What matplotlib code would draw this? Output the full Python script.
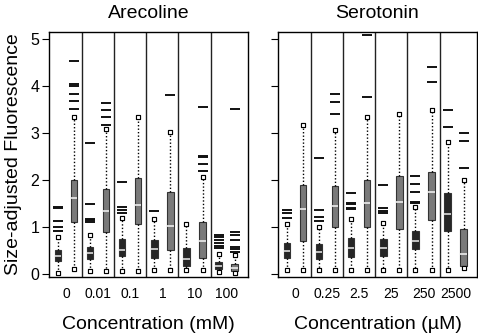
import numpy as np
import matplotlib
matplotlib.use("Agg")
from matplotlib import pyplot as plt

plt.rcParams['font.family'] = ['Liberation Sans', 'DejaVu Sans']

# concentration groups
are_conc = ['0', '0.01', '0.1', '1', '10', '100']
ser_conc = ['0', '0.25', '2.5', '25', '250', '2500']

# (whisker low, q1, median, q3, whisker high) per group
are_dark = [(0.03, 0.28, 0.39, 0.51, 0.79),
            (0.06, 0.31, 0.44, 0.58, 0.84),
            (0.07, 0.38, 0.51, 0.74, 1.20),
            (0.08, 0.35, 0.53, 0.72, 1.16),
            (0.08, 0.17, 0.31, 0.55, 1.06),
            (0.05, 0.10, 0.16, 0.26, 0.43)]
are_dark_out = [[0.92, 0.99, 1.12, 1.40, 1.42],
                [1.11, 1.14, 1.16, 1.48, 2.79],
                [1.30, 1.36, 1.43, 1.95],
                [1.35],
                [],
                [0.55, 0.60, 0.67, 0.72, 0.78, 0.84]]
are_gray = [(0.10, 1.11, 1.61, 2.01, 3.33),
            (0.07, 0.90, 1.33, 1.81, 3.08),
            (0.07, 1.06, 1.47, 2.04, 3.35),
            (0.08, 0.51, 1.02, 1.74, 3.03),
            (0.08, 0.35, 0.71, 1.10, 2.06),
            (0.03, 0.07, 0.13, 0.22, 0.40)]
are_gray_out = [[3.52, 3.68, 3.83, 3.99, 4.04, 4.54],
                [3.18, 3.35, 3.49, 3.63],
                [],
                [3.81],
                [2.19, 2.33, 2.48, 2.52, 3.56],
                [0.47, 0.53, 0.57, 0.72, 0.83, 0.90, 3.52]]

ser_dark = [(0.08, 0.33, 0.49, 0.67, 1.06),
            (0.08, 0.32, 0.46, 0.64, 1.01),
            (0.08, 0.37, 0.56, 0.77, 1.16),
            (0.08, 0.38, 0.56, 0.74, 1.09),
            (0.08, 0.54, 0.70, 0.92, 1.42),
            (0.08, 0.91, 1.27, 1.72, 2.80)]
ser_dark_out = [[1.20, 1.30, 1.37],
                [1.13, 1.22, 1.36, 2.46],
                [1.38, 1.40, 1.48, 1.50, 1.72],
                [1.29, 1.35, 1.41, 1.89],
                [1.50, 1.54, 1.75, 1.91, 2.09],
                [3.12, 3.49]]
ser_gray = [(0.08, 0.71, 1.38, 1.89, 3.18),
            (0.08, 0.99, 1.45, 1.87, 3.06),
            (0.08, 0.99, 1.52, 2.00, 3.33),
            (0.08, 0.95, 1.53, 2.09, 3.40),
            (0.08, 1.15, 1.75, 2.18, 3.49),
            (0.12, 0.16, 0.42, 0.96, 1.99)]
ser_gray_out = [[],
                [3.40, 3.67, 3.83],
                [3.77, 5.09],
                [],
                [4.09, 4.41],
                [2.25, 2.84, 3.01]]


def stats(summary, outliers):
    res = []
    for (lo, q1, med, q3, hi), fl in zip(summary, outliers):
        res.append(dict(whislo=lo, q1=q1, med=med, q3=q3, whishi=hi,
                        fliers=np.array(fl)))
    return res


def draw(ax, summary, outliers, pos, face, medc):
    b = ax.bxp(stats(summary, outliers), positions=pos, widths=0.4,
               patch_artist=True, showcaps=True, capwidths=0.0,
               boxprops=dict(facecolor=face, edgecolor='#333333', lw=0.8),
               medianprops=dict(color=medc, lw=1.2),
               whiskerprops=dict(color='black', lw=1, linestyle=(0, (1, 1.5))),
               capprops=dict(marker='s', markersize=3.0, markerfacecolor='white',
                             markeredgecolor='black', markeredgewidth=0.8,
                             linestyle='none'),
               flierprops=dict(marker='_', markersize=6.5, markeredgewidth=1.4,
                               markeredgecolor='#111111'))
    return b


def panel(ax, title, labels, dark, dark_out, gray, gray_out, xlabel, ylab):
    n = len(labels)
    pos_dark = [2 * i + 1 for i in range(n)]
    pos_gray = [2 * i + 2 for i in range(n)]
    for k in range(1, n):
        ax.axvline(2 * k + 0.5, color='#222222', lw=1)
    draw(ax, dark, dark_out, pos_dark, '#262626', '#dddddd')
    draw(ax, gray, gray_out, pos_gray, '#7a7a7a', '#eeeeee')
    ax.set_xlim(0.45, 12.83)
    ax.set_ylim(-0.064, 5.149)
    ax.set_xticks([2 * i + 1.5 for i in range(n)])
    ax.set_xticklabels(labels)
    ax.tick_params(axis='x', length=0, labelsize=10, pad=7)
    ax.set_yticks(range(6))
    ax.tick_params(axis='y', length=5, width=0.8, labelsize=11.5, pad=2)
    if not ylab:
        ax.set_yticklabels([])
    ax.set_title(title, fontsize=14, pad=10)
    ax.set_xlabel(xlabel, fontsize=14, labelpad=11)
    for s in ax.spines.values():
        s.set_linewidth(1)
        s.set_color('black')


fig = plt.figure(figsize=(4.78, 3.35), dpi=100)
ax1 = fig.add_axes([49 / 478, 58 / 335, 199 / 478, 245 / 335])
ax2 = fig.add_axes([278 / 478, 58 / 335, 199 / 478, 245 / 335])

panel(ax1, 'Arecoline', are_conc, are_dark, are_dark_out, are_gray, are_gray_out,
      'Concentration (mM)', True)
panel(ax2, 'Serotonin', ser_conc, ser_dark, ser_dark_out, ser_gray, ser_gray_out,
      'Concentration (\u00b5M)', False)
ax1.set_ylabel('Size-adjusted Fluorescence', fontsize=14, labelpad=6)

fig.savefig('out.png', dpi=100)
